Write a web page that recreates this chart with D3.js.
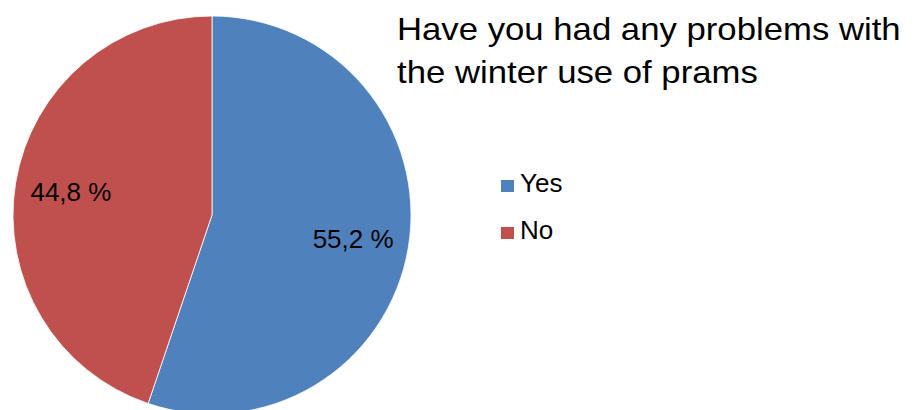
<!DOCTYPE html>
<html>
<head>
<meta charset="utf-8">
<script src="https://cdn.jsdelivr.net/npm/d3@7"></script>
<style>
  html, body { margin: 0; padding: 0; background: #fff; }
  svg { display: block; font-family: "Liberation Sans", Arial, Helvetica, sans-serif; }
</style>
</head>
<body>
<svg id="chart" width="921" height="410"></svg>
<script>
// Survey answers: share of respondents (%)
const categories = ["Yes", "No"];
const values = [55.2, 44.8];
const labels = ["55,2 %", "44,8 %"];
const colors = ["#4F81BD", "#C0504D"];
const titleLines = ["Have you had any problems with", "the winter use of prams"];

const svg = d3.select("#chart");
const W = 921, H = 410;

const cx = 212, cy = 215, radius = 199;

const pie = d3.pie().sort(null).value(d => d.value).startAngle(0).endAngle(2 * Math.PI);
const data = categories.map((c, i) => ({ cat: c, value: values[i], label: labels[i], color: colors[i] }));
const arcs = pie(data);

const arc = d3.arc().innerRadius(0).outerRadius(radius);
const labelArc = d3.arc().innerRadius(143).outerRadius(143);

const g = svg.append("g").attr("transform", `translate(${cx},${cy})`);

g.selectAll("path.slice")
  .data(arcs)
  .join("path")
  .attr("class", "slice")
  .attr("d", arc)
  .attr("fill", d => d.data.color)
  .attr("stroke", "#ffffff")
  .attr("stroke-width", 0.8);

g.selectAll("text.pct")
  .data(arcs)
  .join("text")
  .attr("class", "pct")
  .attr("transform", d => `translate(${labelArc.centroid(d)})`)
  .attr("text-anchor", "middle")
  .attr("dy", "0.36em")
  .attr("font-size", 26)
  .attr("fill", "#000")
  .text(d => d.data.label);

// Title, slightly widened
const title = svg.append("g").attr("transform", "translate(397,0) scale(1.12,1)");
title.selectAll("text")
  .data(titleLines)
  .join("text")
  .attr("x", 0)
  .attr("y", (d, i) => 40.5 + i * 43)
  .attr("font-size", 31)
  .attr("fill", "#000")
  .text(d => d);

// Legend
const legend = svg.append("g").attr("transform", "translate(501,0)");
const items = legend.selectAll("g")
  .data(data)
  .join("g")
  .attr("transform", (d, i) => `translate(0,${192 + i * 47})`);
items.append("rect")
  .attr("x", 0)
  .attr("y", -12)
  .attr("width", 13)
  .attr("height", 12)
  .attr("fill", d => d.color);
items.append("text")
  .attr("x", 19)
  .attr("y", 0)
  .attr("font-size", 26)
  .attr("fill", "#000")
  .text(d => d.cat);
</script>
</body>
</html>
